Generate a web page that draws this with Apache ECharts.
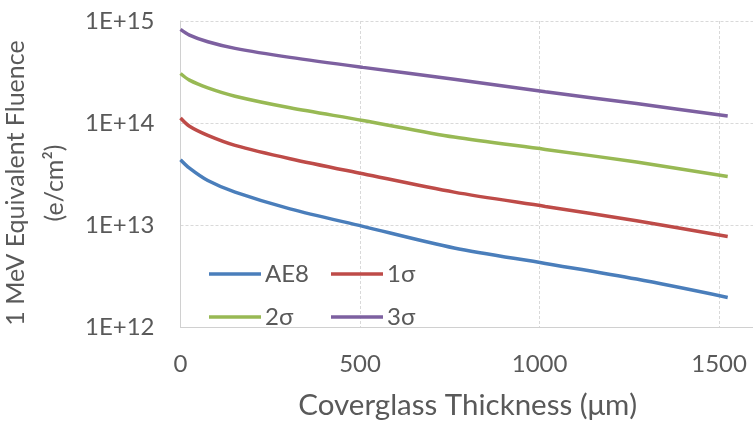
<!DOCTYPE html>
<html><head><meta charset="utf-8">
<script src="https://cdn.jsdelivr.net/npm/echarts@6/dist/echarts.min.js"></script>
<style>html,body{margin:0;padding:0;background:#fff}#c{width:753px;height:427px}</style>
</head><body><div id="c"></div>
<script>
const thickness = [0, 25, 76, 152, 305, 508, 762, 1016, 1270, 1524];
const ae8   = [4.37e13, 3.61e13, 2.73e13, 2.10e13, 1.44e13, 9.7e12, 5.95e12, 4.2e12, 2.95e12, 1.95e12];
const sig1  = [1.12e14, 9.3e13, 7.57e13, 6.04e13, 4.47e13, 3.18e13, 2.10e13, 1.52e13, 1.10e13, 7.7e12];
const sig2  = [3.06e14, 2.63e14, 2.21e14, 1.83e14, 1.41e14, 1.06e14, 7.28e13, 5.51e13, 4.14e13, 2.99e13];
const sig3  = [8.28e14, 7.28e14, 6.26e14, 5.39e14, 4.40e14, 3.51e14, 2.69e14, 2.02e14, 1.55e14, 1.17e14];
const seriesNames = ['AE8', '1σ', '2σ', '3σ'];
const yTickLabels = {12: '1E+12', 13: '1E+13', 14: '1E+14', 15: '1E+15'};
const xTickLabels = {0: '0', 500: '500', 1000: '1000', 1500: '1500'};
const xTitle = 'Coverglass Thickness (μm)';
const yTitle = '1 MeV Equivalent Fluence\n(e/cm²)';

const colors = ['#4A7EBB', '#BE4B48', '#98B954', '#7D60A0'];
const font = 'Lato';
const txt = '#595959';
const pair = (ys) => thickness.map((x, i) => [x, ys[i]]);
const allData = [ae8, sig1, sig2, sig3];
const legendCommon = {orient: 'vertical', top: 257, itemWidth: 52, itemHeight: 14, itemGap: 19,
  icon: 'path://M0,5.25 L52,5.25 L52,8.75 L0,8.75 Z',
  textStyle: {fontFamily: font, fontSize: 24, lineHeight: 24, color: txt, padding: [0,0,0,-1]}};

const chart = echarts.init(document.getElementById('c'), null, {renderer: 'canvas'});
chart.setOption({
  animation: false,
  color: colors,
  textStyle: {fontFamily: font},
  grid: {left: 180.5, right: -2, top: 21, bottom: 100, containLabel: false, outerBoundsMode: 'none'},
  legend: [
    Object.assign({data: [seriesNames[0], seriesNames[2]], left: 204}, legendCommon),
    Object.assign({data: [seriesNames[1], seriesNames[3]], left: 326}, legendCommon)
  ],
  xAxis: {
    type: 'value', min: 0, max: 1600, interval: 500,
    axisLine: {show: true, lineStyle: {color: '#D0D0D0', width: 1}},
    axisTick: {show: false},
    splitLine: {show: true, lineStyle: {color: '#D9D9D9', width: 1, type: [3, 2]}},
    axisLabel: {fontFamily: font, fontSize: 24, color: txt, margin: 25, showMaxLabel: false,
      formatter: (v) => xTickLabels[v] !== undefined ? xTickLabels[v] : ''},
    name: xTitle, nameLocation: 'middle', nameGap: 63,
    nameTextStyle: {fontFamily: font, fontSize: 29.5, color: txt}
  },
  yAxis: {
    type: 'log', logBase: 10, min: 1e12, max: 1e15,
    axisLine: {show: true, lineStyle: {color: '#D0D0D0', width: 1}},
    axisTick: {show: false},
    minorTick: {show: false},
    splitLine: {show: true, lineStyle: {color: '#D9D9D9', width: 1, type: [3, 2]}},
    axisLabel: {fontFamily: font, fontSize: 24, color: txt, margin: 26,
      formatter: (v) => { const e = Math.round(Math.log10(v)); return yTickLabels[e] || ''; }},
    name: yTitle, nameLocation: 'middle', nameGap: 91, nameRotate: 90,
    nameTextStyle: {fontFamily: font, fontSize: 25, color: txt, lineHeight: 39, padding: [0, 18, 0, 0]}
  },
  series: seriesNames.map((n, i) => ({
    name: n, type: 'line', data: pair(allData[i]), smooth: 0.3, showSymbol: false,
    lineStyle: {width: 3.5, color: colors[i]}, itemStyle: {color: colors[i]}
  }))
});
</script></body></html>
